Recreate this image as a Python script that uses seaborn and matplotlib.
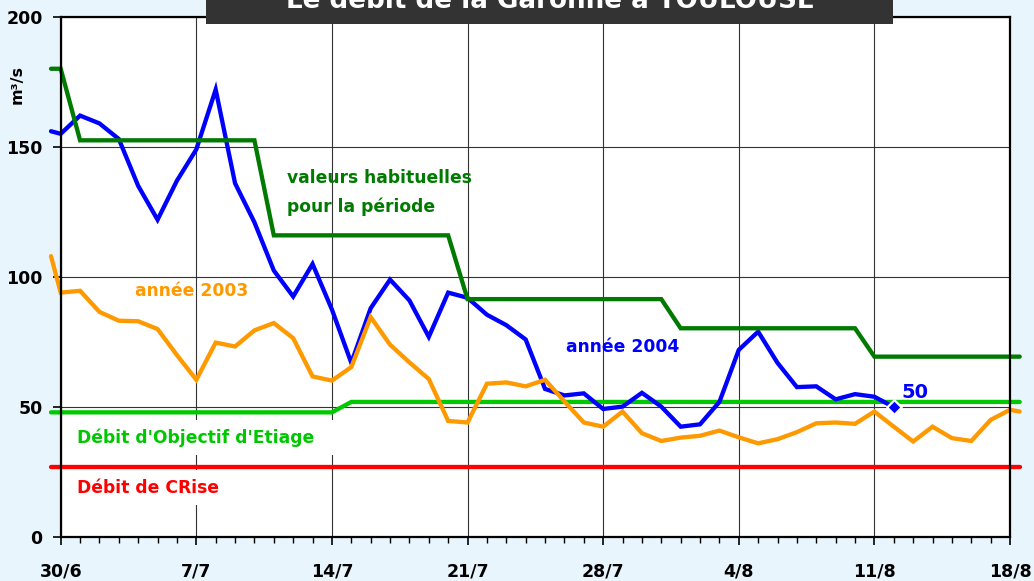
import numpy as np
import pandas as pd
import seaborn as sns
import matplotlib.pyplot as plt
from matplotlib.patches import Rectangle
from matplotlib.ticker import MultipleLocator

# jours comptes a partir du 30/6 ; les traits debordent d'un demi-jour de chaque cote
jours_2004 = [-0.5] + list(range(0, 44))
debit_2004 = [156, 155, 162, 159, 153, 135, 122, 137, 149, 172,
              136, 121, 102.5, 92.5, 105, 87.5, 67, 88, 99, 91,
              77, 94, 92, 85.5, 81.5, 76, 57, 54.5, 55.3, 49.3,
              50.2, 55.5, 50.2, 42.5, 43.4, 52, 72, 79, 67, 57.7,
              58, 53, 55, 54, 50]

jours_2003 = [-0.5] + list(range(0, 50)) + [49.5]
debit_2003 = [108, 94, 94.7, 86.6, 83.2, 83, 80, 70, 60.5, 74.8,
              73.3, 79.5, 82.3, 76.5, 61.8, 60.2, 65.4, 84.6, 74, 67.2,
              60.8, 44.7, 44.1, 59, 59.5, 58, 60.5, 52.2, 44.1, 42.5,
              48.3, 40, 37, 38.3, 39, 41, 38.4, 36.1, 37.7, 40.4,
              43.8, 44.1, 43.6, 48.3, 42.5, 36.8, 42.5, 38.1, 37, 45.1,
              49, 48.3]

jours_habituel = [-0.5, 0, 1, 10, 11, 20, 21, 31, 32, 41, 42, 49.5]
habituel = [180, 180, 152.5, 152.5, 116, 116, 91.5, 91.5, 80.3, 80.3, 69.4, 69.4]

jours_doe = [-0.5, 14, 15, 49.5]
doe = [48, 48, 52, 52]

jours_dcr = [-0.5, 49.5]
dcr = [27, 27]

tick_jours = [0, 7, 14, 21, 28, 35, 42, 49]
tick_dates = ['30/6', '7/7', '14/7', '21/7', '28/7', '4/8', '11/8', '18/8']

fond = '#E9F5FD'
sns.set_style('white')
plt.rcParams['font.family'] = ['DejaVu Sans']

fig = plt.figure(figsize=(10.34, 5.81), dpi=100, facecolor=fond)
ax = fig.add_axes([0.0587, 0.0752, 0.9181, 0.8961])
ax.set_facecolor('white')

series = [
    (jours_dcr, dcr, '#FF0000', 2),
    (jours_doe, doe, '#00C800', 2.1),
    (jours_2004, debit_2004, '#0000FF', 2.2),
    (jours_habituel, habituel, '#007A00', 2.3),
    (jours_2003, debit_2003, '#FF9900', 2.4),
]
for x, y, c, z in series:
    df = pd.DataFrame({'jour': x, 'debit': y})
    sns.lineplot(data=df, x='jour', y='debit', color=c, lw=3.1, ax=ax,
                 sort=False, estimator=None, clip_on=False, zorder=z,
                 solid_joinstyle='miter')

sns.scatterplot(x=[jours_2004[-1]], y=[debit_2004[-1]], marker='D', s=55,
                color='#0000FF', edgecolor='white', linewidth=1.6, ax=ax,
                zorder=5, clip_on=False)

ax.set_xlim(0, 49)
ax.set_ylim(0, 200)
ax.set_xticks(tick_jours)
ax.set_xticklabels(tick_dates)
ax.xaxis.set_minor_locator(MultipleLocator(1))
ax.set_yticks([0, 50, 100, 150, 200])
ax.set_xlabel('')
ax.set_ylabel('')
ax.grid(True, which='major', color='#333333', lw=0.8)
ax.set_axisbelow(True)
ax.tick_params(axis='x', which='major', direction='out', length=6, width=1.2,
               pad=12, labelsize=12.5, bottom=True, color='black', labelcolor='black')
ax.tick_params(axis='x', which='minor', direction='out', length=4, width=1.0,
               bottom=True, color='black')
ax.tick_params(axis='y', which='major', direction='out', length=6, width=1.2,
               pad=7, labelsize=12.5, left=True, color='black', labelcolor='black')
for lab in ax.get_xticklabels() + ax.get_yticklabels():
    lab.set_fontweight('bold')
for s in ax.spines.values():
    s.set_color('black')
    s.set_linewidth(1.6)

# textes
taille = 12.3
ax.text(11.68, 136.2, 'valeurs habituelles', color='#007A00', fontsize=taille,
        fontweight='bold', va='baseline', zorder=4)
ax.text(11.68, 125.0, 'pour la période', color='#007A00', fontsize=taille,
        fontweight='bold', va='baseline', zorder=4)
ax.text(3.84, 92.7, 'année 2003', color='#FF9900', fontsize=taille,
        fontweight='bold', va='baseline', zorder=4)
ax.text(26.1, 71.3, 'année 2004', color='#0000FF', fontsize=taille,
        fontweight='bold', va='baseline', zorder=4)
ax.text(43.4, 53.4, '50', color='#0000FF', fontsize=14,
        fontweight='bold', va='baseline', zorder=4)
ax.text(0.83, 36.3, "Débit d'Objectif d'Etiage  ", color='#00C800', fontsize=taille,
        fontweight='bold', va='baseline', zorder=1.5,
        bbox=dict(facecolor='white', edgecolor='none', pad=6))
ax.text(0.83, 17.1, 'Débit de CRise', color='#FF0000', fontsize=taille,
        fontweight='bold', va='baseline', zorder=1.5,
        bbox=dict(facecolor='white', edgecolor='none', pad=6))

fig.text(17 / 1034, 1 - 84 / 581, 'm³/s', rotation=90, ha='center', va='center',
         fontsize=11.5, fontweight='bold', color='black')

# bandeau du titre
fig.patches.append(Rectangle((206 / 1034, 1 - 24 / 581), (893 - 206) / 1034, 30 / 581,
                             transform=fig.transFigure, facecolor='#333333',
                             edgecolor='none', zorder=10))
fig.text(550 / 1034, 1 - 8 / 581, 'Le débit de la Garonne à TOULOUSE', color='white',
         fontsize=18.8, fontweight='bold', ha='center', va='baseline', zorder=11)

fig.savefig('out.png', dpi=100, facecolor=fond)
